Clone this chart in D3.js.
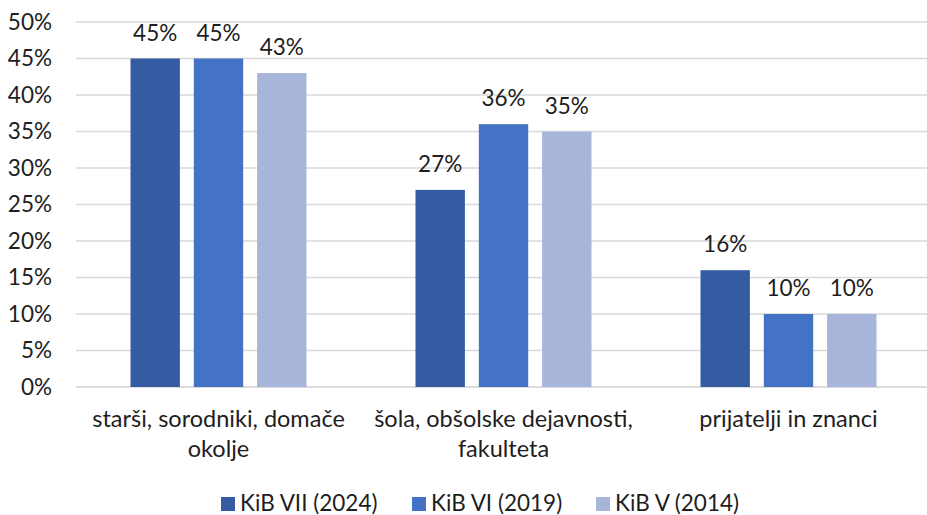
<!DOCTYPE html>
<html>
<head>
<meta charset="utf-8">
<script src="https://cdn.jsdelivr.net/npm/d3@7"></script>
<style>
  body { margin: 0; background: #fff; }
  svg text { font-family: Lato, "Open Sans", sans-serif; fill: #1e1e1e; }
</style>
</head>
<body>
<script>
const categories = [
    ['starši, sorodniki, domače', 'okolje'],
    ['šola, obšolske dejavnosti,', 'fakulteta'],
    ['prijatelji in znanci']
];
const seriesNames = ['KiB VII (2024)', 'KiB VI (2019)', 'KiB V (2014)'];
const kib2024 = [45, 27, 16];
const kib2019 = [45, 36, 10];
const kib2014 = [43, 35, 10];
const yTicks = [0, 5, 10, 15, 20, 25, 30, 35, 40, 45, 50];
const colors = ['#355ca3', '#4472c4', '#a8b5da'];

const width = 927;
const height = 515;
const plotLeft = 76, plotRight = 931, plotTop = 22, plotBottom = 387;
const fontSize = 22.5;

const series = [kib2024, kib2019, kib2014];

const svg = d3.select('body')
    .append('svg')
    .attr('width', width)
    .attr('height', height);

let yScale = d3.scaleLinear()
    .domain([0, 50])
    .range([plotBottom, plotTop]);

let xScale = d3.scaleBand()
    .domain(d3.range(categories.length))
    .range([plotLeft, plotRight]);

let inner = d3.scaleBand()
    .domain(d3.range(series.length))
    .range([xScale.bandwidth() / 2 - 88, xScale.bandwidth() / 2 + 88])
    .paddingInner(0.22);

// gridlines
svg.append('g')
   .selectAll('line')
   .data(yTicks)
   .enter()
   .append('line')
   .attr('x1', plotLeft)
   .attr('x2', plotRight)
   .attr('y1', d => yScale(d))
   .attr('y2', d => yScale(d))
   .attr('stroke', d => d == 0 ? '#d0d0d0' : '#d9d9d9')
   .attr('stroke-width', 1.3);

// y labels
let yAxis = d3.axisLeft(yScale)
    .tickValues(yTicks)
    .tickFormat(d => d + '%')
    .tickSize(0)
    .tickPadding(0);
svg.append('g')
   .attr('transform', `translate(52, 0)`)
   .call(yAxis)
   .call(g => g.select('.domain').remove())
   .selectAll('text')
   .attr('font-size', fontSize)
   .attr('font-family', 'Lato, sans-serif')
   .attr('fill', '#1e1e1e');

// bars
series.forEach((s, si) => {
    let g = svg.append('g');
    g.selectAll('rect')
     .data(s)
     .enter()
     .append('rect')
     .attr('x', (d, i) => xScale(i) + inner(si))
     .attr('y', d => yScale(d))
     .attr('width', inner.bandwidth())
     .attr('height', d => yScale(0) - yScale(d))
     .attr('fill', colors[si]);

    g.selectAll('text')
     .data(s)
     .enter()
     .append('text')
     .attr('x', (d, i) => xScale(i) + inner(si) + inner.bandwidth() / 2)
     .attr('y', d => yScale(d) - 18)
     .attr('text-anchor', 'middle')
     .attr('font-size', fontSize)
     .text(d => d + '%');
});

// category labels
let cat = svg.append('g')
    .selectAll('text')
    .data(categories)
    .enter()
    .append('text')
    .attr('text-anchor', 'middle')
    .attr('font-size', 23.5)
    .attr('transform', (d, i) => `translate(${xScale(i) + xScale.bandwidth() / 2}, 427)`);
cat.selectAll('tspan')
   .data(d => d)
   .enter()
   .append('tspan')
   .attr('x', 0)
   .attr('dy', (d, i) => i == 0 ? 0 : 30)
   .text(d => d);

// legend
const legendX = [221, 412, 596];
let legend = svg.append('g')
    .selectAll('g')
    .data(seriesNames)
    .enter()
    .append('g')
    .attr('transform', (d, i) => `translate(${legendX[i]}, 497)`);
legend.append('rect')
      .attr('width', 14)
      .attr('height', 14)
      .attr('fill', (d, i) => colors[i]);
legend.append('text')
      .attr('x', 19)
      .attr('y', 14)
      .attr('font-size', fontSize)
      .text(d => d);
</script>
</body>
</html>
